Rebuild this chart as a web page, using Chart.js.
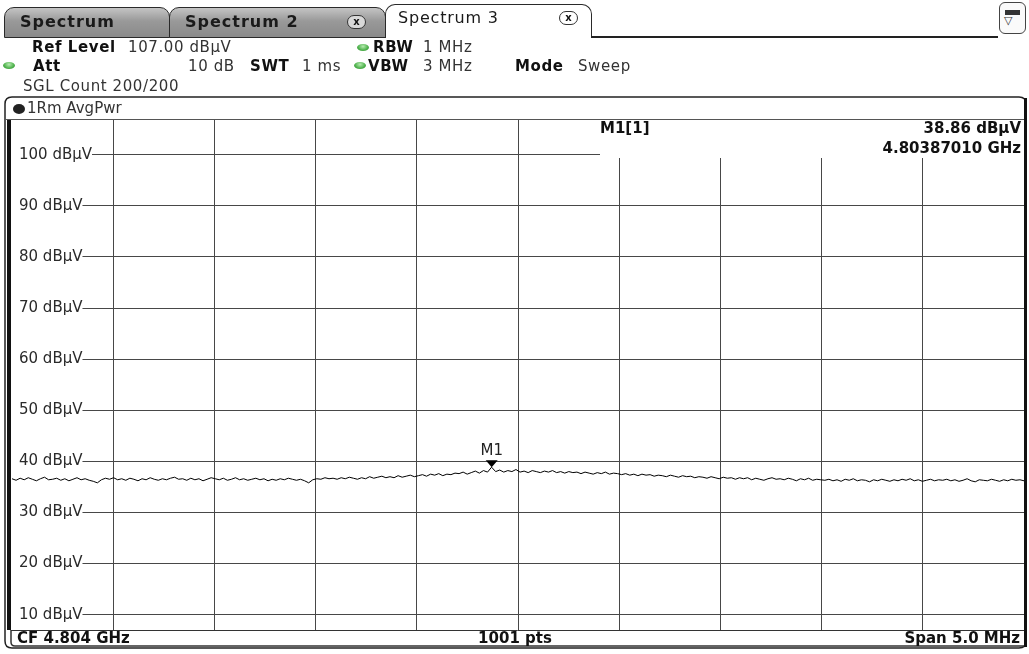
<!DOCTYPE html>
<html>
<head>
<meta charset="utf-8">
<script src="https://cdn.jsdelivr.net/npm/chart.js@4.4.1/dist/chart.umd.min.js"></script>
<style>
  html, body { margin: 0; padding: 0; background: #fff; }
  #wrap { position: relative; width: 1029px; height: 654px; overflow: hidden; font-family: 'DejaVu Sans', sans-serif; }
  #chart { position: absolute; left: 0; top: 0; }
  .t { position: absolute; white-space: nowrap; font-size: 15px; line-height: 16px; letter-spacing: 0.6px; color: #333; }
  .b { font-weight: bold; color: #111; }
  .tab { position: absolute; box-sizing: border-box; border: 1px solid #2a2a2a; border-radius: 10px 10px 0 0; }
  .gray { background: linear-gradient(#c4c4c4, #999 45%, #8a8a8a); }
  .tabtxt { position: absolute; font-size: 16px; font-weight: bold; letter-spacing: 1px; color: #1a1a1a; line-height: 18px; white-space: nowrap; }
  .xbtn { position: absolute; box-sizing: border-box; width: 19px; height: 14px; border: 1px solid #333; border-radius: 7px; font: bold 10px 'DejaVu Sans'; line-height: 12px; text-align: center; color: #111; }
  .dot { position: absolute; width: 12px; height: 7px; border-radius: 50%; background: radial-gradient(ellipse at 50% 35%, #b6ecb0, #4cb04a 60%, #2f8a2f); }
</style>
</head>
<body>
<div id="wrap">
  <canvas id="chart" width="1029" height="654"></canvas>

  <!-- tab bar -->
  <div class="tab gray" style="left:4px;top:7px;width:166px;height:31px;"></div>
  <div class="tabtxt" style="left:20px;top:13px;">Spectrum</div>
  <div class="tab gray" style="left:169px;top:7px;width:217px;height:31px;"></div>
  <div class="tabtxt" style="left:185px;top:13px;">Spectrum 2</div>
  <div class="xbtn" style="left:347px;top:15px;background:#d8d8d8;">x</div>
  <div class="tab" style="left:385px;top:4px;width:207px;height:34px;background:#fff;border-bottom:none;"></div>
  <div class="tabtxt" style="left:398px;top:9px;font-weight:normal;letter-spacing:0.8px;">Spectrum 3</div>
  <div class="xbtn" style="left:559px;top:11px;background:#fff;">x</div>
  <div style="position:absolute;left:591px;top:36px;width:407px;height:2px;background:#222;"></div>
  <div style="position:absolute;left:999px;top:2px;width:27px;height:32px;box-sizing:border-box;border:1px solid #444;border-radius:6px;background:#fafafa;">
    <div style="position:absolute;left:5px;top:7px;width:15px;height:5px;background:#333;"></div>
    <div style="position:absolute;left:4px;top:12px;font-size:11px;line-height:12px;color:#333;">&#9661;</div>
  </div>

  <!-- settings lines -->
  <div class="t b" style="left:32px;top:39px;">Ref Level</div>
  <div class="t" style="left:128px;top:39px;">107.00 dBµV</div>
  <div class="dot" style="left:357px;top:44px;"></div>
  <div class="t b" style="left:373px;top:39px;">RBW</div>
  <div class="t" style="left:423px;top:39px;">1 MHz</div>

  <div class="dot" style="left:3px;top:62px;"></div>
  <div class="t b" style="left:33px;top:58px;">Att</div>
  <div class="t" style="left:188px;top:58px;">10 dB</div>
  <div class="t b" style="left:250px;top:58px;">SWT</div>
  <div class="t" style="left:302px;top:58px;">1 ms</div>
  <div class="dot" style="left:354px;top:62px;"></div>
  <div class="t b" style="left:368px;top:58px;">VBW</div>
  <div class="t" style="left:423px;top:58px;">3 MHz</div>
  <div class="t b" style="left:515px;top:58px;">Mode</div>
  <div class="t" style="left:578px;top:58px;">Sweep</div>

  <div class="t" style="left:23px;top:78px;">SGL Count 200/200</div>
</div>

<script>
// sweep settings (MHz) and level scale (dBµV)
const freqStart = 4801.5;
const freqStop = 4806.5;
const refLevel = 107;
const bottomLevel = 7;
const levelTicks = [10, 20, 30, 40, 50, 60, 70, 80, 90, 100];
const freqGrid = [4802.0, 4802.5, 4803.0, 4803.5, 4804.0, 4804.5, 4805.0, 4805.5, 4806.0];

// marker M1
const markerFreq = 4803.8701;
const markerLevel = 38.86;

const traceLevels = [
  36.6, 36.3, 36.7, 36.4, 36.8, 36.5, 36.2, 36.6, 36.9, 36.4,
  36.5, 36.7, 36.3, 36.6, 36.2, 36.5, 36.8, 36.4, 36.6, 36.3,
  36.1, 35.8, 36.4, 36.7, 36.5, 36.8, 36.4, 36.6, 36.3, 36.7,
  36.5, 36.2, 36.6, 36.4, 36.8, 36.5, 36.3, 36.6, 36.4, 36.7,
  36.9, 36.5, 36.6, 36.3, 36.7, 36.4, 36.6, 36.2, 36.5, 36.8,
  36.6, 36.4, 36.7, 36.3, 36.5, 36.8, 36.4, 36.6, 36.3, 36.5,
  36.7, 36.4, 36.6, 36.2, 36.5, 36.3, 36.6, 36.4, 36.7, 36.5,
  36.3, 36.5, 36.2, 35.8, 36.4, 36.6, 36.5, 36.8, 36.6, 36.7,
  36.5, 36.8, 36.6, 36.9, 36.7, 36.5, 36.8, 36.6, 37.0, 36.7,
  36.9, 37.1, 36.8, 37.0, 36.8, 37.2, 36.9, 37.1, 37.3, 37.0,
  37.2, 37.4, 37.1, 37.5, 37.3, 37.6, 37.2, 37.5, 37.4, 37.7,
  37.6, 37.9, 37.5, 37.8, 38.1, 37.7, 38.2, 37.9, 38.86, 38.0,
  38.3, 37.9, 38.2, 38.0, 38.4, 37.9, 38.1, 37.8, 38.2, 38.0,
  37.8, 38.1, 37.9, 38.2, 37.8, 38.0, 37.7, 38.0, 37.8, 37.9,
  37.6, 37.9, 37.7, 37.5, 37.8, 37.6, 37.9, 37.5, 37.7, 37.6,
  37.4, 37.6, 37.3, 37.5, 37.2, 37.5, 37.3, 37.4, 37.1, 37.3,
  37.2, 37.0, 37.3, 37.1, 36.9, 37.2, 37.0, 37.1, 36.8, 37.0,
  36.9, 36.7, 37.0, 36.8, 36.6, 36.9, 36.7, 36.8, 36.5, 36.8,
  36.6, 36.8, 36.4, 36.7, 36.5, 36.3, 36.6, 36.8, 36.5, 36.6,
  36.4, 36.7, 36.5, 36.2, 36.6, 36.4, 36.7, 36.3, 36.5, 36.4,
  36.3, 36.5, 36.2, 36.4, 36.1, 36.5, 36.3, 36.6, 36.2, 36.4,
  36.3, 36.0, 36.4, 36.2, 36.5, 36.3, 36.1, 36.4, 36.2, 36.5,
  36.3, 36.6, 36.2, 36.4, 36.1, 36.3, 36.5, 36.2, 36.4, 36.3,
  36.5, 36.2, 36.4, 36.1, 36.3, 36.6, 36.2, 36.0, 36.4, 36.3,
  36.2, 36.5, 36.3, 36.1, 36.4, 36.2, 36.5, 36.3, 36.4, 36.2
];

(function () {
  const gridColor = '#474747';
  const step = (freqStop - freqStart) / (traceLevels.length - 1);
  const points = traceLevels.map((v, i) => ({ x: freqStart + i * step, y: v }));

  function roundRect(ctx, x, y, w, h, r) {
    ctx.beginPath();
    ctx.moveTo(x + r, y);
    ctx.lineTo(x + w - r, y);
    ctx.quadraticCurveTo(x + w, y, x + w, y + r);
    ctx.lineTo(x + w, y + h - r);
    ctx.quadraticCurveTo(x + w, y + h, x + w - r, y + h);
    ctx.lineTo(x + r, y + h);
    ctx.quadraticCurveTo(x, y + h, x, y + h - r);
    ctx.lineTo(x, y + r);
    ctx.quadraticCurveTo(x, y, x + r, y);
    ctx.closePath();
  }

  // white box behind marker readout (hides grid there)
  const markerBox = {
    id: 'markerBox',
    beforeDatasetsDraw(chart) {
      const { ctx, chartArea: a } = chart;
      ctx.save();
      ctx.fillStyle = '#fff';
      ctx.fillRect(600, a.top + 1, a.right - 600, 38);
      ctx.restore();
    }
  };

  // frame, title bar, footer, marker readout
  const screenFrame = {
    id: 'screenFrame',
    afterDraw(chart) {
      const { ctx, chartArea: a, scales } = chart;
      ctx.save();

      // marker triangle + label
      const mx = scales.x.getPixelForValue(markerFreq);
      const my = scales.y.getPixelForValue(markerLevel);
      ctx.fillStyle = '#000';
      ctx.beginPath();
      ctx.moveTo(mx - 6, my - 7);
      ctx.lineTo(mx + 6, my - 7);
      ctx.lineTo(mx, my);
      ctx.closePath();
      ctx.fill();
      ctx.font = '15px "DejaVu Sans"';
      ctx.textAlign = 'center';
      ctx.textBaseline = 'middle';
      ctx.fillStyle = '#222';
      ctx.fillText('M1', mx, my - 16);

      // marker readout
      ctx.font = 'bold 15px "DejaVu Sans"';
      ctx.fillStyle = '#111';
      ctx.textAlign = 'left';
      ctx.fillText('M1[1]', 600, a.top + 10);
      ctx.textAlign = 'right';
      ctx.fillText(markerLevel.toFixed(2) + ' dBµV', a.right - 3, a.top + 10);
      ctx.fillText((markerFreq / 1000).toFixed(8) + ' GHz', a.right - 3, a.top + 30);

      // panel frame
      ctx.strokeStyle = '#222';
      ctx.lineWidth = 1.5;
      roundRect(ctx, 5, 97, 1021, 551, 7);
      ctx.stroke();
      ctx.fillStyle = '#111';
      ctx.fillRect(7, a.top, 4, a.bottom - a.top);
      ctx.fillRect(a.right, 98, 3, 549);

      // title bar
      ctx.strokeStyle = '#555';
      ctx.lineWidth = 1;
      ctx.beginPath();
      ctx.moveTo(6, a.top + 0.5);
      ctx.lineTo(a.right, a.top + 0.5);
      ctx.stroke();
      ctx.fillStyle = '#222';
      ctx.beginPath();
      ctx.ellipse(19, 109, 6, 5, 0, 0, Math.PI * 2);
      ctx.fill();
      ctx.font = '15px "DejaVu Sans"';
      ctx.textAlign = 'left';
      ctx.fillStyle = '#333';
      ctx.fillText('1Rm AvgPwr', 27, 109);

      // footer bar
      ctx.strokeStyle = '#333';
      ctx.beginPath();
      ctx.moveTo(a.left - 1, a.bottom + 0.5);
      ctx.lineTo(a.right, a.bottom + 0.5);
      ctx.stroke();
      ctx.lineWidth = 1.5;
      ctx.beginPath();
      ctx.moveTo(11, a.bottom);
      ctx.lineTo(11, 642);
      ctx.quadraticCurveTo(11, 646, 15, 646);
      ctx.lineTo(a.right, 646);
      ctx.stroke();
      ctx.font = 'bold 15px "DejaVu Sans"';
      ctx.fillStyle = '#111';
      ctx.textAlign = 'left';
      ctx.fillText('CF 4.804 GHz', 17, 639);
      ctx.textAlign = 'center';
      ctx.fillText('1001 pts', 515, 639);
      ctx.textAlign = 'right';
      ctx.fillText('Span 5.0 MHz', a.right - 4, 639);
      ctx.restore();
    }
  };

  new Chart(document.getElementById('chart'), {
    type: 'line',
    data: {
      datasets: [{
        data: points,
        borderColor: '#000',
        borderWidth: 1,
        pointRadius: 0,
        tension: 0,
        fill: false
      }]
    },
    options: {
      responsive: false,
      animation: false,
      events: [],
      layout: { padding: { left: 12, top: 119, right: 5, bottom: 24 } },
      plugins: { legend: { display: false }, tooltip: { enabled: false } },
      scales: {
        x: {
          type: 'linear',
          min: freqStart,
          max: freqStop,
          afterBuildTicks: s => { s.ticks = freqGrid.map(v => ({ value: v })); },
          afterFit: s => { s.height = 0; },
          ticks: { display: false },
          grid: { color: gridColor, lineWidth: 1, drawTicks: false },
          border: { display: false }
        },
        y: {
          type: 'linear',
          min: bottomLevel,
          max: refLevel,
          afterBuildTicks: s => { s.ticks = levelTicks.map(v => ({ value: v })); },
          afterFit: s => { s.width = 0; },
          ticks: {
            mirror: true,
            padding: 7,
            color: '#2a2a2a',
            font: { family: 'DejaVu Sans', size: 15 },
            showLabelBackdrop: true,
            backdropColor: '#fff',
            backdropPadding: { left: 8, right: 0, top: 3, bottom: 3 },
            callback: v => v + ' dBµV'
          },
          grid: { color: gridColor, lineWidth: 1, drawTicks: false },
          border: { display: false }
        }
      }
    },
    plugins: [markerBox, screenFrame]
  });
})();
</script>
</body>
</html>
